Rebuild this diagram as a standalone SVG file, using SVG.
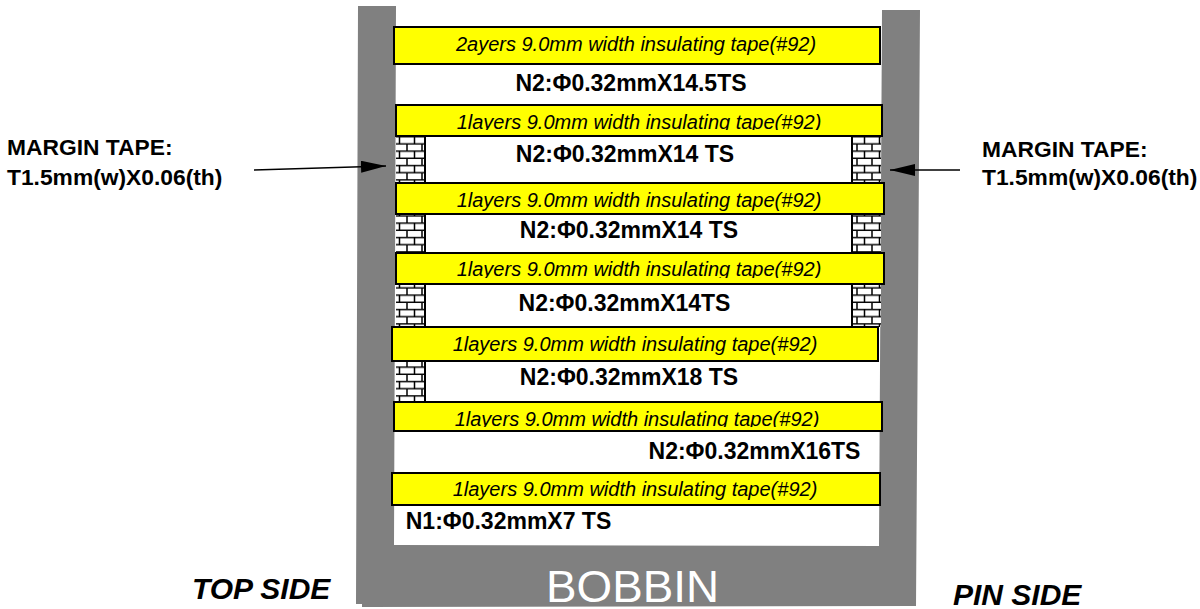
<svg xmlns="http://www.w3.org/2000/svg" width="1200" height="609" viewBox="0 0 1200 609">
<style>
text{font-family:"Liberation Sans",Arial,sans-serif;fill:#000}
.b{font-weight:bold;font-size:23px}
.t{font-style:italic;font-size:20px}
.m{font-weight:bold;font-size:22.800px}
.s{font-weight:bold;font-style:italic;font-size:30px}
.y{fill:#ff0;stroke:#000;stroke-width:2}
.br{fill:url(#brick)}
.e{stroke:#000;stroke-width:2;fill:none}
.c{stroke:#000;stroke-width:1.500;fill:none}
</style>
<defs>
<pattern id="brick" x="396" y="136" width="15" height="14.400" patternUnits="userSpaceOnUse">
<rect width="15" height="14.400" fill="#fff"/>
<path d="M0 .7H15M0 7.900H15M3.500 0V7.200M11 7.200V14.400" stroke="#000" stroke-width="1.500" fill="none"/>
</pattern>
<marker id="a" markerUnits="userSpaceOnUse" markerWidth="26" markerHeight="12" refX="25" refY="6" orient="auto"><path d="M0 0L25 6L0 12Z" fill="#000"/></marker>
<clipPath id="c2"><rect x="396" y="105" width="486" height="25"/></clipPath>
<clipPath id="c4"><rect x="396" y="253" width="488" height="25"/></clipPath>
<clipPath id="c6"><rect x="394" y="402" width="488" height="25"/></clipPath>
</defs>
<g id="bobbin">
<path d="M358 6H396L394 545L879 546L882 10H920L916 606L362 607V604H356Z" fill="#808080"/>
<text x="632.500" y="602" text-anchor="middle" font-size="44" textLength="173" lengthAdjust="spacingAndGlyphs" style="fill:#fff">BOBBIN</text>
</g>
<g id="bricks">
<rect class="br" x="396" y="136" width="29" height="47"/>
<rect class="br" x="396" y="214" width="29" height="39"/>
<rect class="br" x="396" y="284" width="29" height="43"/>
<rect class="br" x="396" y="361" width="29" height="41"/>
<rect class="br" x="852" y="136" width="29" height="47"/>
<rect class="br" x="852" y="214" width="29" height="39"/>
<rect class="br" x="852" y="284" width="29" height="43"/>
<path class="e" d="M425 136V183M425 214V253M425 284V327M425 361V402M852 136V183M852 214V253M852 284V327"/>
</g>
<g id="tape1"><rect class="y" x="394" y="27" width="486" height="37"/><text class="t" x="636" y="51" text-anchor="middle">2ayers 9.0mm width insulating tape(#92)</text></g>
<g id="tape2"><rect class="y" x="396" y="105" width="486" height="31"/><text class="t" x="639" y="128.500" text-anchor="middle" clip-path="url(#c2)">1layers 9.0mm width insulating tape(#92)</text></g>
<g id="tape3"><rect class="y" x="396" y="183" width="488" height="31"/><text class="t" x="639" y="207" text-anchor="middle">1layers 9.0mm width insulating tape(#92)</text></g>
<g id="tape4"><rect class="y" x="396" y="253" width="488" height="31"/><text class="t" x="639" y="276" text-anchor="middle" clip-path="url(#c4)">1layers 9.0mm width insulating tape(#92)</text></g>
<g id="tape5"><rect class="y" x="392" y="327" width="486" height="34"/><text class="t" x="635" y="351" text-anchor="middle">1layers 9.0mm width insulating tape(#92)</text></g>
<g id="tape6"><rect class="y" x="394" y="402" width="488" height="29"/><text class="t" x="637" y="426" text-anchor="middle" clip-path="url(#c6)">1layers 9.0mm width insulating tape(#92)</text></g>
<g id="tape7"><rect class="y" x="392" y="473" width="488" height="32"/><text class="t" x="635" y="496" text-anchor="middle">1layers 9.0mm width insulating tape(#92)</text></g>
<g id="windings">
<text class="b" x="631" y="91" text-anchor="middle">N2:Φ0.32mmX14.5TS</text>
<text class="b" x="625" y="162" text-anchor="middle">N2:Φ0.32mmX14 TS</text>
<text class="b" x="629" y="238" text-anchor="middle">N2:Φ0.32mmX14 TS</text>
<text class="b" x="624.500" y="311" text-anchor="middle">N2:Φ0.32mmX14TS</text>
<text class="b" x="629" y="385" text-anchor="middle">N2:Φ0.32mmX18 TS</text>
<text class="b" x="754.500" y="459" text-anchor="middle">N2:Φ0.32mmX16TS</text>
<text class="b" x="508.500" y="529" text-anchor="middle">N1:Φ0.32mmX7 TS</text>
</g>
<g id="labels">
<text class="m" x="7" y="155">MARGIN TAPE:</text>
<text class="m" x="7" y="185">T1.5mm(w)X0.06(th)</text>
<text class="m" x="982" y="157">MARGIN TAPE:</text>
<text class="m" x="982" y="185">T1.5mm(w)X0.06(th)</text>
<text class="s" x="192" y="599">TOP SIDE</text>
<text class="s" x="953" y="605">PIN SIDE</text>
</g>
<g id="connectors">
<line class="c" x1="254" y1="170" x2="386" y2="166" marker-end="url(#a)"/>
<line class="c" x1="960" y1="170" x2="890" y2="170" marker-end="url(#a)"/>
</g>
</svg>
